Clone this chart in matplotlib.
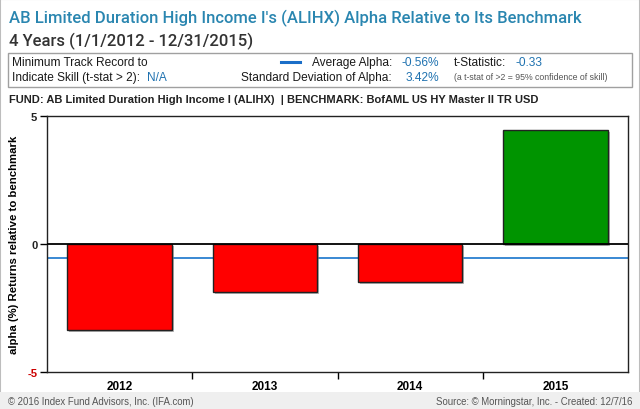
import matplotlib
matplotlib.use("Agg")
import matplotlib.pyplot as plt
import matplotlib.patheffects as pe
from matplotlib.patches import Rectangle

years = ["2012", "2013", "2014", "2015"]
alpha = [-3.35, -1.87, -1.47, 4.45]
avg_alpha = -0.56
y_ticks = [-5, 0, 5]
y_tick_labels = ["-5", "0", "5"]

plt.rcParams['font.family'] = ['Liberation Sans', 'DejaVu Sans']
TF = ['Roboto', 'DejaVu Sans']

W, H = 640, 410
fig = plt.figure(figsize=(W / 100, H / 100), dpi=100)

def fx(px):
    return px / W

def fy(py):
    return 1 - py / H

blue = "#1f72b0"
fig.patches.append(Rectangle((0, 0), 1, 1, transform=fig.transFigure, fill=False,
                             edgecolor="#bdbdbd", lw=1.5))
fig.patches.append(Rectangle((0, 0), 1, 17 / H, transform=fig.transFigure,
                             facecolor="#efefef", edgecolor="none"))

fig.text(fx(9), fy(18), "AB Limited Duration High Income I's (ALIHX) Alpha Relative to Its Benchmark",
         color="#2a86b0", fontsize=12.0, va="center", ha="left", family=TF, fontweight="medium")
fig.text(fx(9), fy(41), "4 Years (1/1/2012 - 12/31/2015)", color="#333333",
         fontsize=12.0, va="center", ha="left", family=TF, fontweight="medium")

fig.patches.append(Rectangle((fx(8), fy(88)), fx(624), 34 / H, transform=fig.transFigure,
                             fill=False, edgecolor="#a0a0a0", lw=1))
fs = 8.6
fig.text(fx(12), fy(63), "Minimum Track Record to", fontsize=fs, color="#1a1a1a", va="center")
fig.text(fx(12), fy(78), "Indicate Skill (t-stat > 2):", fontsize=fs, color="#1a1a1a", va="center")
fig.text(fx(147), fy(78), "N/A", fontsize=fs, color=blue, va="center")
fig.lines.append(plt.Line2D([fx(281), fx(300)], [fy(63), fy(63)], transform=fig.transFigure,
                            color="#1a6ec8", lw=2.2))
fig.text(fx(392), fy(63), "Average Alpha:", fontsize=fs, color="#1a1a1a", va="center", ha="right")
fig.text(fx(439), fy(63), "-0.56%", fontsize=fs, color=blue, va="center", ha="right")
fig.text(fx(392), fy(78), "Standard Deviation of Alpha:", fontsize=fs, color="#1a1a1a", va="center", ha="right")
fig.text(fx(439), fy(78), "3.42%", fontsize=fs, color=blue, va="center", ha="right")
fig.text(fx(454), fy(63), "t-Statistic:", fontsize=fs, color="#1a1a1a", va="center")
fig.text(fx(515), fy(63), "-0.33", fontsize=fs, color=blue, va="center")
fig.text(fx(454), fy(78), "(a t-stat of >2 = 95% confidence of skill)", fontsize=6.3, color="#555555", va="center")

fig.text(fx(9), fy(100), "FUND: AB Limited Duration High Income I (ALIHX)  | BENCHMARK: BofAML US HY Master II TR USD",
         fontsize=8.0, fontweight="bold", color="#222222", va="center")

fig.text(fx(8), fy(402), "\u00a9 2016 Index Fund Advisors, Inc. (IFA.com)", fontsize=6.9, color="#555555", va="center")
fig.text(fx(632), fy(402), "Source: \u00a9 Morningstar, Inc. - Created: 12/7/16", fontsize=6.9, color="#555555",
         va="center", ha="right")

ax = fig.add_axes([fx(47), fy(373), 581 / W, 256 / H])
x = list(range(len(years)))
colors = ["#ff0000" if v < 0 else "#009400" for v in alpha]
bars = ax.bar(x, alpha, width=0.72, color=colors, edgecolor="#222222", linewidth=1, zorder=3)
for b in bars:
    b.set_path_effects([pe.SimplePatchShadow(offset=(1.5, -1.5), shadow_rgbFace="#888888", alpha=0.6),
                        pe.Normal()])
ax.axhline(avg_alpha, color="#2a7fd0", lw=1.3, zorder=2)
ax.axhline(0, color="black", lw=1.3, zorder=4)
ax.set_xlim(-0.5, len(years) - 0.5)
ax.set_ylim(-5, 5)
ax.set_yticks(y_ticks)
ax.set_yticklabels(y_tick_labels, fontsize=8, fontweight="bold")
for lbl, v in zip(ax.get_yticklabels(), y_ticks):
    lbl.set_color("#cc0000" if v < 0 else "#222222")
ax.tick_params(axis="y", length=5, width=1, direction="out", pad=2)
ax.set_xticks([i + 0.5 for i in x[:-1]], minor=False)
ax.set_xticklabels([])
ax.set_xticks(x, minor=True)
ax.set_xticklabels(years, minor=True, fontsize=8.5, fontweight="bold")
ax.tick_params(axis="x", which="major", length=5, width=1, direction="out")
ax.tick_params(axis="x", which="minor", length=0, pad=6)
ax.set_ylabel("alpha (%) Returns relative to benchmark", fontsize=8.2, fontweight="bold", labelpad=6)
for s in ax.spines.values():
    s.set_color("#222222")
    s.set_linewidth(1)

fig.savefig("out.png", dpi=100)
